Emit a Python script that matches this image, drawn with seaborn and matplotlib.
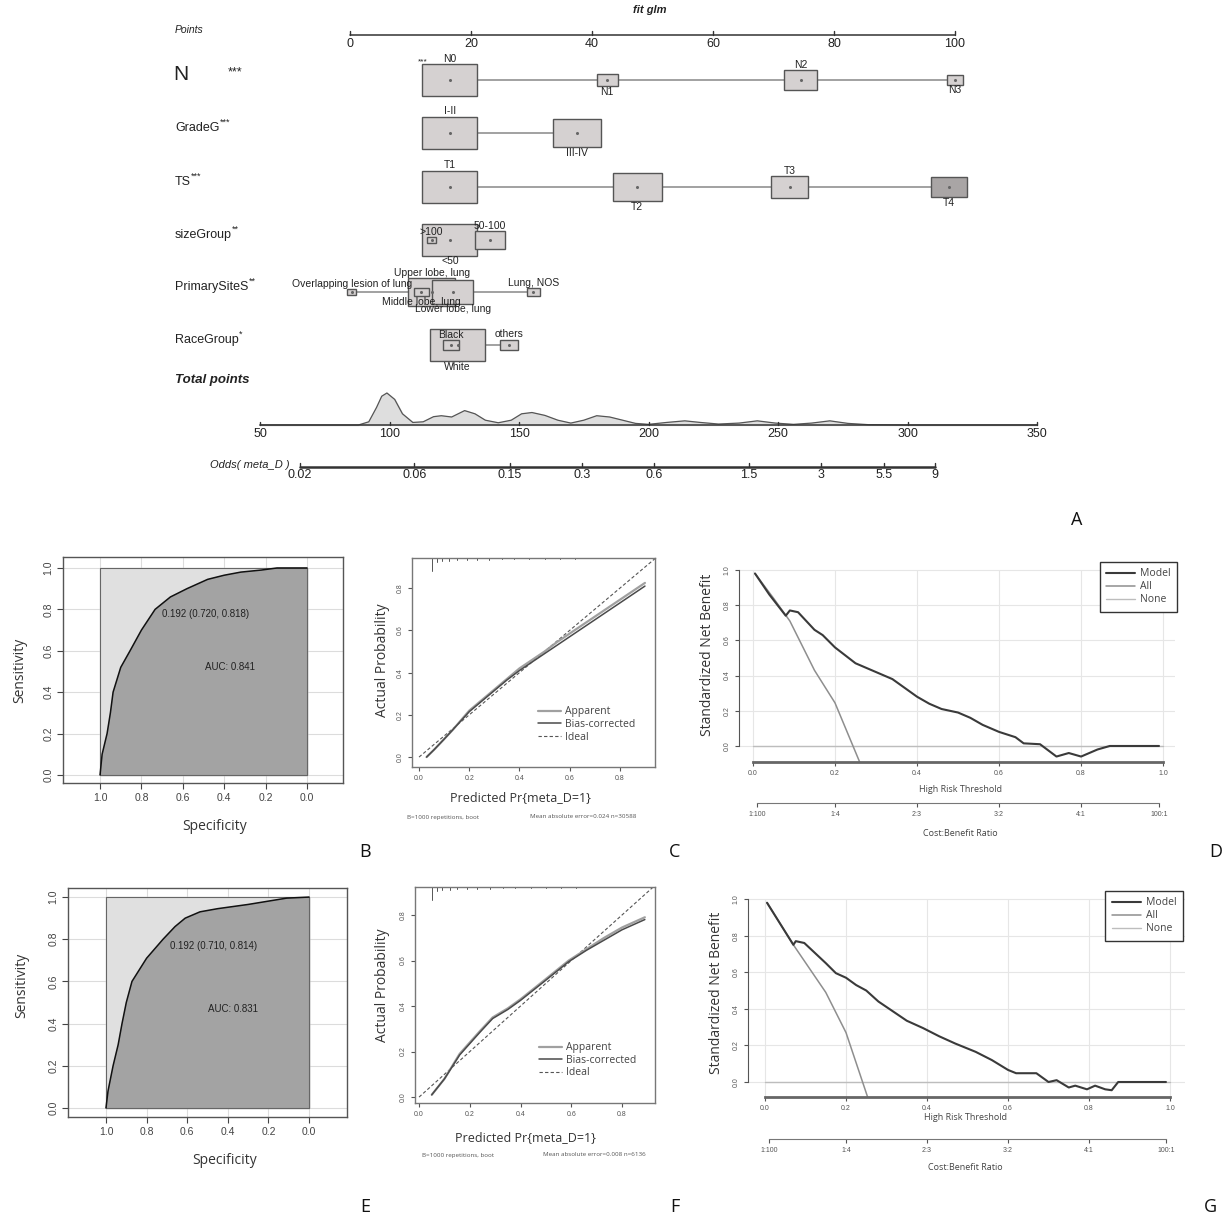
import numpy as np
import pandas as pd
import matplotlib
matplotlib.use("Agg")
import matplotlib.pyplot as plt
import seaborn as sns
from matplotlib.patches import Rectangle
from matplotlib.lines import Line2D

W, H = 1223, 1218
sns.set_style("white")
plt.rcParams["font.family"] = ["Liberation Sans", "DejaVu Sans"]

# ------------------------------------------------------------------ DATA
# Nomogram (panel A)
points_ticks = [0, 20, 40, 60, 80, 100]
total_ticks = [50, 100, 150, 200, 250, 300, 350]
odds_ticks = [0.02, 0.06, 0.15, 0.3, 0.6, 1.5, 3, 5.5, 9]
odds_labels = ["0.02", "0.06", "0.15", "0.3", "0.6", "1.5", "3", "5.5", "9"]

N_levels = ["N0", "N1", "N2", "N3"]
N_points = [16.5, 42.5, 74.5, 100.0]
N_freq = [1.0, 0.145, 0.37, 0.095]

Grade_levels = ["I-II", "III-IV"]
Grade_points = [16.5, 37.5]
Grade_freq = [1.0, 0.78]

TS_levels = ["T1", "T2", "T3", "T4"]
TS_points = [16.5, 47.5, 72.7, 99.0]
TS_freq = [1.0, 0.79, 0.45, 0.42]

Size_levels = ["<50", ">100", "50-100"]
Size_points = [16.5, 13.5, 23.1]
Size_freq = [1.0, 0.03, 0.3]

Site_levels = ["Upper lobe, lung", "Overlapping lesion of lung", "Middle lobe, lung",
               "Lower lobe, lung", "Lung, NOS"]
Site_points = [13.5, 0.3, 11.8, 17.0, 30.3]
Site_freq = [0.75, 0.025, 0.07, 0.55, 0.06]

Race_levels = ["White", "Black", "others"]
Race_points = [17.8, 16.7, 26.3]
Race_freq = [1.0, 0.09, 0.1]

total_grid = [50, 88, 92, 95, 97, 99, 102, 105, 109, 113, 117, 120, 124, 129, 133, 137,
              142, 147, 151, 155, 160, 165, 170, 175, 180, 185, 190, 195, 200, 207, 214,
              220, 227, 235, 242, 249, 256, 263, 270, 277, 285, 300, 350]
total_density = [0, 0, 0.1, 0.55, 0.9, 1.0, 0.8, 0.35, 0.08, 0.1, 0.26, 0.29, 0.25, 0.45,
                 0.35, 0.15, 0.07, 0.15, 0.35, 0.39, 0.3, 0.15, 0.06, 0.15, 0.29, 0.25,
                 0.15, 0.05, 0.02, 0.08, 0.13, 0.08, 0.03, 0.06, 0.13, 0.06, 0.02, 0.06,
                 0.13, 0.05, 0.01, 0, 0]

# ROC (panels B, E)
roc_ticks = [1.0, 0.8, 0.6, 0.4, 0.2, 0.0]
spec_B = [1.0, 0.99, 0.966, 0.95, 0.937, 0.90, 0.855, 0.80, 0.734, 0.66, 0.58, 0.48,
          0.40, 0.32, 0.22, 0.145, 0.0]
sens_B = [0.0, 0.10, 0.20, 0.30, 0.40, 0.52, 0.60, 0.70, 0.80, 0.86, 0.90, 0.945,
          0.965, 0.98, 0.99, 1.0, 1.0]
spec_E = [1.0, 0.99, 0.965, 0.94, 0.921, 0.90, 0.872, 0.80, 0.719, 0.66, 0.61, 0.537,
          0.45, 0.30, 0.11, 0.0]
sens_E = [0.0, 0.08, 0.20, 0.30, 0.40, 0.50, 0.60, 0.71, 0.80, 0.86, 0.90, 0.93,
          0.945, 0.965, 0.995, 1.0]
thr_text_B, auc_text_B = "0.192 (0.720, 0.818)", "AUC: 0.841"
thr_text_E, auc_text_E = "0.192 (0.710, 0.814)", "AUC: 0.831"

# Calibration (panels C, F)
cal_ticks = [0.0, 0.2, 0.4, 0.6, 0.8]
pred_C = [0.03, 0.06, 0.10, 0.135, 0.20, 0.25, 0.30, 0.35, 0.40, 0.45, 0.50, 0.55, 0.60,
          0.65, 0.70, 0.75, 0.80, 0.85, 0.90]
app_C = [0.0, 0.035, 0.085, 0.13, 0.22, 0.27, 0.32, 0.37, 0.42, 0.46, 0.50, 0.545, 0.585,
         0.625, 0.665, 0.705, 0.745, 0.785, 0.825]
bias_C = [0.0, 0.035, 0.085, 0.13, 0.215, 0.265, 0.315, 0.365, 0.41, 0.45, 0.49, 0.53,
          0.57, 0.61, 0.65, 0.69, 0.73, 0.77, 0.81]
pred_F = [0.05, 0.10, 0.16, 0.20, 0.24, 0.29, 0.35, 0.40, 0.49, 0.59, 0.66, 0.73, 0.80, 0.89]
app_F = [0.01, 0.08, 0.19, 0.24, 0.29, 0.35, 0.39, 0.43, 0.51, 0.60, 0.65, 0.70, 0.745, 0.79]
bias_F = [0.01, 0.08, 0.185, 0.235, 0.285, 0.345, 0.385, 0.425, 0.505, 0.595, 0.645,
          0.69, 0.735, 0.78]
rug_x = [0.05, 0.07, 0.09, 0.12, 0.15, 0.19, 0.23, 0.28, 0.33, 0.38, 0.44, 0.5, 0.56, 0.62]
rug_h = [0.06, 0.02, 0.015, 0.012, 0.01, 0.01, 0.008, 0.008, 0.006, 0.006, 0.005, 0.005,
         0.004, 0.004]
sub_C = ("B=1000 repetitions, boot", "Mean absolute error=0.024 n=30588")
sub_F = ("B=1000 repetitions, boot", "Mean absolute error=0.008 n=6136")

# Decision curves (panels D, G)
dca_ticks = [0.0, 0.2, 0.4, 0.6, 0.8, 1.0]
cb_ticks = [0.01, 0.2, 0.4, 0.6, 0.8, 0.99]
cb_labels = ["1:100", "1:4", "2:3", "3:2", "4:1", "100:1"]
thr_D = [0.005, 0.04, 0.08, 0.09, 0.11, 0.13, 0.15, 0.17, 0.20, 0.25, 0.30, 0.34, 0.40,
         0.43, 0.46, 0.50, 0.53, 0.56, 0.60, 0.64, 0.66, 0.70, 0.74, 0.77, 0.80, 0.84,
         0.87, 0.99]
model_D = [0.98, 0.86, 0.74, 0.77, 0.76, 0.71, 0.66, 0.63, 0.56, 0.47, 0.42, 0.38, 0.28,
           0.24, 0.21, 0.19, 0.16, 0.12, 0.08, 0.05, 0.015, 0.01, -0.06, -0.04, -0.06,
           -0.02, 0.0, 0.0]
thr_all_D = [0.005, 0.05, 0.09, 0.15, 0.20, 0.26]
all_D = [0.98, 0.84, 0.71, 0.43, 0.245, -0.09]
thr_G = [0.005, 0.07, 0.076, 0.097, 0.15, 0.175, 0.20, 0.225, 0.25, 0.28, 0.32, 0.35,
         0.39, 0.43, 0.47, 0.52, 0.56, 0.60, 0.62, 0.67, 0.70, 0.72, 0.75, 0.766, 0.795,
         0.815, 0.84, 0.856, 0.872, 0.99]
model_G = [0.98, 0.75, 0.77, 0.76, 0.65, 0.595, 0.57, 0.53, 0.50, 0.44, 0.38, 0.335, 0.295,
           0.25, 0.21, 0.165, 0.12, 0.066, 0.048, 0.048, 0.0, 0.01, -0.03, -0.02, -0.04,
           -0.02, -0.04, -0.045, 0.0, 0.0]
thr_all_G = [0.005, 0.07, 0.15, 0.20, 0.253]
all_G = [0.98, 0.75, 0.49, 0.27, -0.08]
none_x = [0.0, 1.0]
none_y = [0.0, 0.0]

# ------------------------------------------------------------------ HELPERS
fig = plt.figure(figsize=(W / 100, H / 100), dpi=100)


def ax_px(x0, y0, x1, y1):
    return fig.add_axes([x0 / W, 1 - y1 / H, (x1 - x0) / W, (y1 - y0) / H])


def ftext(x, y, s, **kw):
    kw.setdefault("ha", "center")
    kw.setdefault("va", "center")
    fig.text(x / W, 1 - y / H, s, **kw)


PANEL_FONT = ["Open Sans", "DejaVu Sans"]
TXT = "#333333"

# ------------------------------------------------------------------ PANEL A: nomogram
PX0, PXS = 350.0, 6.05


def px2pts(px):
    return (np.asarray(px, dtype=float) - PX0) / PXS


def tot2pts(t):
    return px2pts(260 + (np.asarray(t, dtype=float) - 50) * 2.59)


def odds2pts(o):
    return px2pts(300 + 104 * np.log(np.asarray(o, dtype=float) / 0.02))


axn = fig.add_axes([0, 1 - 500 / H, 1, 500 / H])
axn.set_xlim(px2pts(0), px2pts(W))
axn.set_ylim(500, 0)
axn.axis("off")

ntxt = dict(color="#222222")
axn.text(px2pts(650), 10, "fit glm", fontsize=8, fontweight="bold", style="italic",
         ha="center", va="center", **ntxt)
axn.text(px2pts(175), 30, "Points", fontsize=7.5, style="italic", ha="left", va="center", **ntxt)

# points axis
PY = 35
axn.plot([0, 100], [PY, PY], color="#333333", lw=1.1)
for t in points_ticks:
    axn.plot([t, t], [PY, PY - 4], color="#333333", lw=1)
    axn.text(t, PY + 3, str(t), fontsize=9, ha="center", va="top", **ntxt)

rows = [
    ("N", N_levels, N_points, N_freq, 80, ["above", "below", "above", "below"]),
    ("GradeG", Grade_levels, Grade_points, Grade_freq, 133, ["above", "below"]),
    ("TS", TS_levels, TS_points, TS_freq, 187, ["above", "below", "above", "below"]),
    ("sizeGroup", Size_levels, Size_points, Size_freq, 240, ["below", "above", "above"]),
    ("PrimarySiteS", Site_levels, Site_points, Site_freq, 292,
     ["above", "above", "below", "below", "above"]),
    ("RaceGroup", Race_levels, Race_points, Race_freq, 345, ["below", "above", "above"]),
]
row_stars = {"N": "***", "GradeG": "***", "TS": "***", "sizeGroup": "**",
             "PrimarySiteS": "**", "RaceGroup": "*"}
BW, BH = 55.0, 32.0
for name, levels, pts, freq, ry, sides in rows:
    if name == "N":
        axn.text(px2pts(173), ry - 5, "N", fontsize=15, ha="left", va="center", **ntxt)
        axn.text(px2pts(228), ry - 8, "***", fontsize=9, ha="left", va="center", **ntxt)
    else:
        t = axn.text(px2pts(175), ry - 5, name, fontsize=9, ha="left", va="center", **ntxt)
        axn.annotate(row_stars[name], xy=(1.0, 0.95), xycoords=t, fontsize=6.5,
                     ha="left", va="center", **ntxt)
    axn.plot([min(pts), max(pts)], [ry, ry], color="#9a9a9a", lw=1.3, zorder=1)
    order = np.argsort(freq)[::-1]
    for i in order:
        f = freq[i]
        w = BW * np.sqrt(f) / PXS
        h = BH * np.sqrt(f)
        fc = "#a9a5a5" if levels[i] == "T4" else "#d5d1d1"
        axn.add_patch(Rectangle((pts[i] - w / 2, ry - h / 2), w, h, facecolor=fc,
                                edgecolor="#555555", lw=1.0, zorder=2))
        axn.plot(pts[i], ry, marker="o", ms=1.2, color="#666666", zorder=3)
        if sides[i] == "above":
            axn.text(pts[i], ry - h / 2 - 0.5, levels[i], fontsize=7.5, ha="center",
                     va="bottom", zorder=4, **ntxt)
        else:
            axn.text(pts[i], ry + h / 2 + 0.5, levels[i], fontsize=7.5, ha="center",
                     va="top", zorder=4, **ntxt)
axn.text(px2pts(428), 62, "***", fontsize=6, ha="right", va="center", **ntxt)

# total points with density
axn.text(px2pts(175), 380, "Total points", fontsize=9.5, fontweight="bold", style="italic",
         ha="left", va="center", **ntxt)
TY = 425
dens_x = tot2pts(total_grid)
dens_y = TY - 32 * np.asarray(total_density)
axn.fill_between(dens_x, TY, dens_y, color="#dedede", zorder=1)
sns.lineplot(x=dens_x, y=dens_y, ax=axn, color="#555555", lw=0.9, sort=False,
             estimator=None, zorder=2)
axn.plot(tot2pts([50, 350]), [TY, TY], color="#333333", lw=1.1, zorder=3)
for t in total_ticks:
    axn.plot([tot2pts(t)] * 2, [TY, TY - 3], color="#333333", lw=1)
    axn.text(tot2pts(t), TY + 3, str(t), fontsize=9, ha="center", va="top", **ntxt)

# odds axis
OY = 467
axn.text(px2pts(250), OY - 2, "Odds( meta_D )", fontsize=8, style="italic", ha="center",
         va="center", **ntxt)
axn.plot(odds2pts([0.02, 9]), [OY, OY], color="#333333", lw=1.8)
for o, lab in zip(odds_ticks, odds_labels):
    axn.plot([odds2pts(o)] * 2, [OY, OY - 4], color="#333333", lw=1)
    axn.text(odds2pts(o), OY + 2, lab, fontsize=9, ha="center", va="top", **ntxt)

# ------------------------------------------------------------------ ROC panels
LIGHT, DARK = "#e0e0e0", "#a3a3a3"


def roc_panel(frame, xlim, ylim, spec, sens, thr_text, thr_xy, auc_text, auc_xy):
    ax = ax_px(*frame)
    ax.set_xlim(xlim)
    ax.set_ylim(ylim)
    for t in roc_ticks:
        ax.axhline(t, color="#dcdcdc", lw=0.8, zorder=0)
        ax.axvline(t, color="#dcdcdc", lw=0.8, zorder=0)
    ax.plot([1, 0], [0, 1], color="#999999", lw=0.8, zorder=0.5)
    ax.fill_between([1.0, 0.0], [0, 0], [1, 1], color=LIGHT, zorder=1)
    ax.fill_between(spec, 0, sens, color=DARK, zorder=2)
    ax.plot([1, 1, 0, 0, 1], [0, 1, 1, 0, 0], color="#666666", lw=0.8, zorder=2.5)
    sns.lineplot(x=spec, y=sens, ax=ax, sort=False, estimator=None, color="#111111",
                 lw=1.1, zorder=3)
    ax.text(thr_xy[0], thr_xy[1], thr_text, fontsize=7, color="#222222", ha="left",
            va="center", zorder=4)
    ax.text(auc_xy[0], auc_xy[1], auc_text, fontsize=7, color="#222222", ha="center",
            va="center", zorder=4)
    ax.set_xticks(roc_ticks)
    ax.set_xticklabels([f"{t:.1f}" for t in roc_ticks])
    ax.set_yticks(roc_ticks)
    ax.set_yticklabels([f"{t:.1f}" for t in roc_ticks], rotation=90, va="center")
    ax.tick_params(direction="out", length=4, width=0.8, labelsize=7.5,
                   colors="#444444", pad=3, left=True, bottom=True)
    for s in ax.spines.values():
        s.set_color("#555555")
        s.set_linewidth(1.0)
    ax.set_xlabel("")
    ax.set_ylabel("")
    return ax


roc_panel((63, 557, 343, 783), (1.179, -0.174), (-0.039, 1.053), spec_B, sens_B,
          thr_text_B, (0.70, 0.78), auc_text_B, (0.372, 0.52))
ftext(20, 670, "Sensitivity", fontsize=10, rotation=90, family=PANEL_FONT, color=TXT)
ftext(215, 827, "Specificity", fontsize=10, family=PANEL_FONT, color=TXT)

roc_panel((68, 888, 347, 1117), (1.187, -0.187), (-0.043, 1.043), spec_E, sens_E,
          thr_text_E, (0.685, 0.768), auc_text_E, (0.374, 0.47))
ftext(22, 985, "Sensitivity", fontsize=10, rotation=90, family=PANEL_FONT, color=TXT)
ftext(225, 1160, "Specificity", fontsize=10, family=PANEL_FONT, color=TXT)

# ------------------------------------------------------------------ Calibration panels


def cal_panel(frame, xlim, ylim, pred, app, bias, leg_anchor):
    ax = ax_px(*frame)
    ax.set_xlim(xlim)
    ax.set_ylim(ylim)
    ax.plot([0, 1], [0, 1], color="#555555", lw=0.8, ls=(0, (3, 2)), zorder=1)
    sns.lineplot(x=pred, y=app, ax=ax, color="#a0a0a0", lw=1.6, sort=False,
                 estimator=None, zorder=2)
    sns.lineplot(x=pred, y=bias, ax=ax, color="#4a4a4a", lw=1.1, sort=False,
                 estimator=None, zorder=3)
    top = ylim[1]
    span = ylim[1] - ylim[0]
    for rx, rh in zip(rug_x, rug_h):
        ax.plot([rx, rx], [top, top - rh * span], color="#555555", lw=0.7)
    handles = [Line2D([], [], color="#a0a0a0", lw=1.6),
               Line2D([], [], color="#4a4a4a", lw=1.1),
               Line2D([], [], color="#555555", lw=0.8, ls=(0, (3, 2)))]
    leg = ax.legend(handles, ["Apparent", "Bias-corrected", "Ideal"], loc="upper left",
                    bbox_to_anchor=leg_anchor, frameon=False,
                    handlelength=2.2, handletextpad=0.4, labelspacing=0.15,
                    borderaxespad=0, prop={"family": PANEL_FONT, "size": 7.5})
    for t in leg.get_texts():
        t.set_color("#444444")
    ax.set_xticks(cal_ticks)
    ax.set_xticklabels([f"{t:.1f}" for t in cal_ticks])
    ax.set_yticks(cal_ticks)
    ax.set_yticklabels([f"{t:.1f}" for t in cal_ticks], rotation=90, va="center")
    ax.tick_params(direction="out", length=3, width=0.8, labelsize=5, colors="#555555",
                   pad=3, left=True, bottom=True)
    for s in ax.spines.values():
        s.set_color("#777777")
        s.set_linewidth(1.0)
    return ax


cal_panel((412, 558, 655, 767), (-0.028, 0.94), (-0.047, 0.943), pred_C, app_C, bias_C,
          (0.5, 0.31))
ftext(383, 660, "Actual Probability", fontsize=10, rotation=90, family=PANEL_FONT, color=TXT)
ftext(520, 798, "Predicted Pr{meta_D=1}", fontsize=9, family=PANEL_FONT, color=TXT)
ftext(443, 817, sub_C[0], fontsize=4.5, family=PANEL_FONT, color="#555555")
ftext(583, 817, sub_C[1], fontsize=4.5, family=PANEL_FONT, color="#555555")

cal_panel((415, 887, 655, 1103), (-0.016, 0.93), (-0.026, 0.923), pred_F, app_F, bias_F,
          (0.5, 0.30))
ftext(383, 985, "Actual Probability", fontsize=10, rotation=90, family=PANEL_FONT, color=TXT)
ftext(525, 1138, "Predicted Pr{meta_D=1}", fontsize=9, family=PANEL_FONT, color=TXT)
ftext(458, 1155, sub_F[0], fontsize=4.5, family=PANEL_FONT, color="#555555")
ftext(594, 1155, sub_F[1], fontsize=4.5, family=PANEL_FONT, color="#555555")

# ------------------------------------------------------------------ Decision curves


def dca_panel(frame, xlim, ylim, thr, model, thr_all, allv, leg_anchor, cb_y):
    ax = ax_px(*frame)
    ax.set_xlim(xlim)
    ax.set_ylim(ylim)
    for t in dca_ticks:
        ax.plot([t, t], [ylim[0], 1.0], color="#e6e6e6", lw=0.8, zorder=0)
        ax.axhline(t, color="#e6e6e6", lw=0.8, zorder=0)
    sns.lineplot(x=none_x, y=none_y, ax=ax, color="#bdbdbd", lw=1.0, estimator=None, zorder=1)
    sns.lineplot(x=thr_all, y=allv, ax=ax, color="#8e8e8e", lw=1.1, sort=False,
                 estimator=None, zorder=2)
    sns.lineplot(x=thr, y=model, ax=ax, color="#3a3a3a", lw=1.5, sort=False,
                 estimator=None, zorder=3)
    handles = [Line2D([], [], color="#3a3a3a", lw=1.5),
               Line2D([], [], color="#8e8e8e", lw=1.1),
               Line2D([], [], color="#bdbdbd", lw=1.0)]
    leg = ax.legend(handles, ["Model", "All", "None"], loc="upper right",
                    bbox_to_anchor=leg_anchor, frameon=True, fancybox=False,
                    edgecolor="#333333", framealpha=1, borderaxespad=0,
                    handlelength=2.8, handletextpad=0.5, labelspacing=0.2,
                    borderpad=0.6, prop={"family": PANEL_FONT, "size": 7.5})
    leg.get_frame().set_linewidth(1.0)
    for t in leg.get_texts():
        t.set_color("#444444")
    ax.spines["top"].set_visible(False)
    ax.spines["right"].set_visible(False)
    ax.spines["left"].set_bounds(0, 1)
    ax.spines["bottom"].set_bounds(0, 1)
    ax.spines["left"].set_color("#555555")
    ax.spines["bottom"].set_color("#666666")
    ax.spines["bottom"].set_linewidth(2.0)
    ax.set_xticks(dca_ticks)
    ax.set_xticklabels([f"{t:.1f}" for t in dca_ticks])
    ax.set_yticks(dca_ticks)
    ax.set_yticklabels([f"{t:.1f}" for t in dca_ticks], rotation=90, va="center")
    ax.tick_params(direction="out", length=3, width=0.8, labelsize=5, colors="#555555",
                   pad=3, left=True, bottom=True)
    # cost:benefit axis
    x0, _, x1, _ = frame
    ax2 = ax_px(x0, cb_y - 10, x1, cb_y)
    ax2.set_xlim(xlim)
    ax2.patch.set_alpha(0)
    for k in ("top", "right", "left"):
        ax2.spines[k].set_visible(False)
    ax2.spines["bottom"].set_bounds(cb_ticks[0], cb_ticks[-1])
    ax2.spines["bottom"].set_color("#777777")
    ax2.set_yticks([])
    ax2.set_xticks(cb_ticks)
    ax2.set_xticklabels(cb_labels)
    ax2.tick_params(direction="out", length=3, width=0.8, labelsize=5, colors="#555555",
                    pad=3, bottom=True)
    return ax


dca_panel((739, 555, 1175, 762), (-0.034, 1.029), (-0.091, 1.085), thr_D, model_D,
          thr_all_D, all_D, (1.005, 0.966), 803)
ftext(708, 655, "Standardized Net Benefit", fontsize=10, rotation=90, family=PANEL_FONT,
      color=TXT)
ftext(960, 790, "High Risk Threshold", fontsize=6.5, family=PANEL_FONT, color="#444444")
ftext(960, 833, "Cost:Benefit Ratio", fontsize=6.5, family=PANEL_FONT, color="#444444")

dca_panel((748, 885, 1185, 1097), (-0.042, 1.037), (-0.082, 1.077), thr_G, model_G,
          thr_all_G, all_G, (0.995, 0.972), 1139)
ftext(716, 993, "Standardized Net Benefit", fontsize=10, rotation=90, family=PANEL_FONT,
      color=TXT)
ftext(965, 1118, "High Risk Threshold", fontsize=6.5, family=PANEL_FONT, color="#444444")
ftext(965, 1168, "Cost:Benefit Ratio", fontsize=6.5, family=PANEL_FONT, color="#444444")

# ------------------------------------------------------------------ panel letters
for lab, x, y in [("A", 1077, 520), ("B", 365, 852), ("C", 675, 852), ("D", 1216, 852),
                  ("E", 365, 1207), ("F", 675, 1207), ("G", 1210, 1207)]:
    ftext(x, y, lab, fontsize=13, family=PANEL_FONT, color="#111111")

fig.savefig("out.png", dpi=100)
